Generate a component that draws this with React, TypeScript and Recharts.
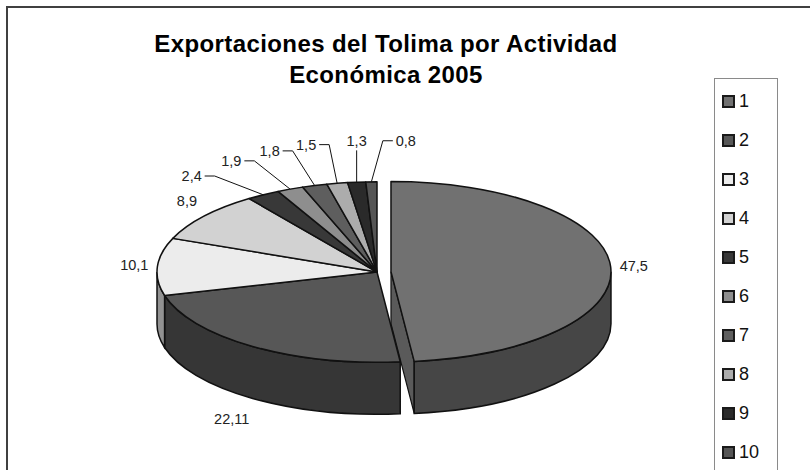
import { PieChart, Pie, Cell, Legend } from 'recharts'

// Exportaciones del Tolima por actividad económica, 2005 (%)
const categories = ['1', '2', '3', '4', '5', '6', '7', '8', '9', '10']
const values = [47.5, 22.11, 10.1, 8.9, 2.4, 1.9, 1.8, 1.5, 1.3, 0.8]
const sliceColors = [
  '#717171',
  '#575757',
  '#ececec',
  '#d2d2d2',
  '#383838',
  '#8e8e8e',
  '#5e5e5e',
  '#acacac',
  '#2a2a2a',
  '#555555',
]

const FONT = 'Arial, "Liberation Sans", sans-serif'
const TILT = 0.41 // vertical squash of the pie disc
const DEPTH = 52 // thickness of the 3d wall
const EXPLODE = 14 // how far slice 1 is pulled out
const EXPLODED = 0

const data = categories.map((name, idx) => ({ name, value: values[idx], idx, fill: sliceColors[idx] }))

const rad = (deg: number) => (deg * Math.PI) / 180
// angle in (-180, 180]
const norm = (deg: number) => ((((deg + 180) % 360) + 360) % 360) - 180

function pt(cx: number, cy: number, r: number, deg: number): [number, number] {
  return [cx + r * Math.cos(rad(deg)), cy - r * TILT * Math.sin(rad(deg))]
}

function darken(hex: string, f: number) {
  const n = parseInt(hex.slice(1), 16)
  const c = [(n >> 16) & 255, (n >> 8) & 255, n & 255].map((v) => Math.round(v * f))
  return `rgb(${c[0]},${c[1]},${c[2]})`
}

function explodeOffset(idx: number, midAngle: number): [number, number] {
  if (idx !== EXPLODED) return [0, 0]
  return [EXPLODE * Math.cos(rad(midAngle)), -EXPLODE * TILT * Math.sin(rad(midAngle))]
}

function Slice3D(props: any) {
  const { cx, cy, outerRadius: r, startAngle, endAngle, midAngle, fill } = props
  const idx = props.payload?.idx ?? props.idx ?? 0
  const [dx, dy] = explodeOffset(idx, midAngle)
  const ox = cx + dx
  const oy = cy + dy
  const ry = r * TILT
  const wall = darken(fill, 0.62)

  const [sx, sy] = pt(ox, oy, r, startAngle)
  const [ex, ey] = pt(ox, oy, r, endAngle)
  const large = Math.abs(startAngle - endAngle) > 180 ? 1 : 0
  const top = `M${ox},${oy} L${sx},${sy} A${r},${ry} 0 ${large} 1 ${ex},${ey} Z`

  // outer wall, only on the front half of the disc
  const walls: string[] = []
  for (let k = -2; k <= 1; k++) {
    const lo = Math.max(endAngle, -180 + 360 * k)
    const hi = Math.min(startAngle, 360 * k)
    if (hi - lo > 0.01) {
      const [ax, ay] = pt(ox, oy, r, hi)
      const [bx, by] = pt(ox, oy, r, lo)
      walls.push(
        `M${ax},${ay} A${r},${ry} 0 0 1 ${bx},${by} L${bx},${by + DEPTH} A${r},${ry} 0 0 0 ${ax},${ay + DEPTH} Z`
      )
    }
  }

  return (
    <g>
      {idx === EXPLODED && (
        <path
          d={`M${ox},${oy} L${ex},${ey} L${ex},${ey + DEPTH} L${ox},${oy + DEPTH} Z`}
          fill={darken(fill, 0.8)}
          stroke="#111"
          strokeWidth={1.2}
        />
      )}
      {walls.map((d, i) => (
        <path key={i} d={d} fill={wall} stroke="#111" strokeWidth={1.5} />
      ))}
      <path d={top} fill={fill} stroke="#111" strokeWidth={1.5} strokeLinejoin="round" />
    </g>
  )
}

function renderLabel(props: any) {
  const { cx, cy, outerRadius: r, value } = props
  const midAngle = norm(props.midAngle)
  const idx = props.payload?.idx ?? props.index ?? 0
  const small = value < 5
  const [dx, dy] = explodeOffset(idx, midAngle)
  const text = String(value).replace('.', ',')

  let lx: number
  let ly: number
  let anchor = 'middle'
  let line = null

  if (small) {
    // crowded small slices get their labels fanned out; the last one flips right
    const la = midAngle - 90 < 4 ? midAngle - 7.6 : 105.3 + 1.36 * (midAngle - 100.5)
    lx = cx + 270 * Math.cos(rad(la))
    ly = cy - 132 * Math.sin(rad(la))
    const [px, py] = pt(cx, cy, r, midAngle)
    const half = text.length * 4
    let d: string
    if (Math.abs(lx - px) < 20) {
      lx = px
      d = `M${lx},${ly + 9} L${px},${py}`
    } else if (lx < px) {
      d = `M${lx + half + 1},${ly} L${lx + half + 11},${ly} L${px},${py}`
    } else {
      d = `M${lx - half - 1},${ly} L${lx - half - 11},${ly} L${px},${py}`
    }
    line = <path d={d} fill="none" stroke="#111" strokeWidth={1} />
  } else {
    const c = Math.cos(rad(midAngle))
    const s = Math.sin(rad(midAngle))
    const side = Math.abs(c) > 0.6
    anchor = side ? (c > 0 ? 'start' : 'end') : 'middle'
    lx = cx + dx + (side ? r + 9 : r + 37) * c
    ly = cy + dy - (r * TILT + 25) * s
    if (s < 0) ly += DEPTH
  }

  return (
    <g>
      {line}
      <text
        x={lx}
        y={ly}
        textAnchor={anchor}
        dominantBaseline="central"
        fontSize={14.5}
        fontFamily={FONT}
        fill="#222"
      >
        {text}
      </text>
    </g>
  )
}

function LegendBox() {
  return (
    <div
      style={{
        border: '1px solid #8a8a8a',
        background: '#fff',
        height: 420,
        boxSizing: 'border-box',
        paddingTop: 3,
      }}
    >
      {categories.map((name, i) => (
        <div key={name} style={{ display: 'flex', alignItems: 'center', height: 39 }}>
          <span
            style={{
              display: 'inline-block',
              width: 9,
              height: 9,
              border: '2px solid #1a1a1a',
              background: sliceColors[i],
              marginLeft: 7,
              marginRight: 4,
            }}
          />
          <span style={{ fontSize: 18, fontFamily: FONT, color: '#111' }}>{name}</span>
        </div>
      ))}
    </div>
  )
}

export default function App() {
  return (
    <div
      style={{
        position: 'fixed',
        left: 6,
        top: 6,
        width: 804,
        height: 464,
        overflow: 'hidden',
        background: '#fff',
        fontFamily: FONT,
      }}
    >
      <div
        style={{
          position: 'absolute',
          left: 0,
          top: 0,
          width: 900,
          height: 600,
          border: '2px solid #404040',
        }}
      />
      <PieChart width={804} height={464}>
        <Pie
          data={data}
          dataKey="value"
          nameKey="name"
          cx={366}
          cy={261}
          outerRadius={220}
          startAngle={90}
          endAngle={-270}
          shape={Slice3D}
          label={renderLabel}
          labelLine={false}
          isAnimationActive={false}
        >
          {data.map((d) => (
            <Cell key={d.name} fill={d.fill} />
          ))}
        </Pie>
        <Legend
          content={<LegendBox />}
          wrapperStyle={{ position: 'absolute', left: 708, top: 72, width: 64 }}
        />
      </PieChart>
      <div
        style={{
          position: 'absolute',
          left: 0,
          top: 22,
          width: 760,
          textAlign: 'center',
          fontSize: 24,
          fontWeight: 'bold',
          lineHeight: '31px',
          color: '#000',
          letterSpacing: 0.4,
        }}
      >
        Exportaciones del Tolima por Actividad
        <br />
        Económica 2005
      </div>
    </div>
  )
}
